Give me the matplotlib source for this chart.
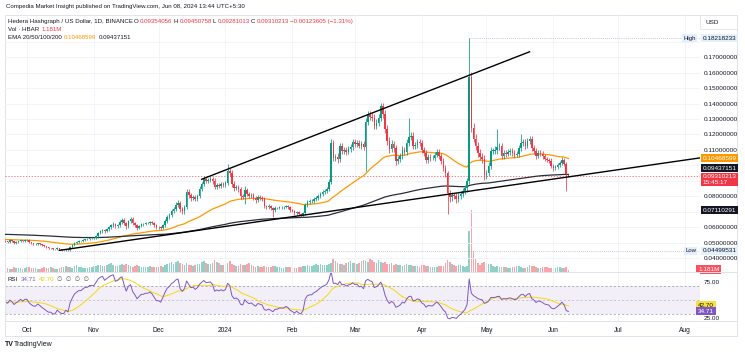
import numpy as np
import pandas as pd
import matplotlib
matplotlib.use("Agg")
import matplotlib.pyplot as plt
import matplotlib.dates as mdates
from matplotlib.patches import Rectangle
from matplotlib.transforms import blended_transform_factory as blend

plt.rcParams['font.family'] = ['Liberation Sans', 'DejaVu Sans']

# ---------------- data (daily HBAR/USD) ----------------
start_date = "2023-09-21"
first_open = 0.0512
last_open = 0.09354056
closes = [
    0.0510, 0.0504, 0.0517, 0.0510, 0.0497, 0.0504, 0.0510, 0.0517, 0.0510, 0.0517,
    0.0517, 0.0504, 0.0497, 0.0491, 0.0491, 0.0497, 0.0491, 0.0484, 0.0478, 0.0471,
    0.0465, 0.0465, 0.0458, 0.0458, 0.0465, 0.0458, 0.0452, 0.0452, 0.0458, 0.0452,
    0.0471, 0.0484, 0.0497, 0.0504, 0.0510, 0.0510, 0.0517, 0.0523, 0.0523, 0.0530, 0.0530,
    0.0530, 0.0543, 0.0562, 0.0575, 0.0582, 0.0575, 0.0588, 0.0601, 0.0614, 0.0621,
    0.0608, 0.0614, 0.0634, 0.0647, 0.0627, 0.0608, 0.0640, 0.0653, 0.0627, 0.0614,
    0.0595, 0.0608, 0.0621, 0.0621, 0.0627, 0.0627, 0.0634, 0.0627, 0.0614, 0.0601,
    0.0601, 0.0595, 0.0614, 0.0640, 0.0666, 0.0679, 0.0705, 0.0718, 0.0744, 0.0757,
    0.0718, 0.0705, 0.0731, 0.0829, 0.0809, 0.0790, 0.0796, 0.0783, 0.0803, 0.0848,
    0.0881, 0.0913, 0.0900, 0.0906, 0.0913, 0.0900, 0.0861, 0.0874, 0.0868, 0.0881,
    0.0874, 0.0887, 0.0965, 0.0952, 0.0881, 0.0855, 0.0861, 0.0848, 0.0803, 0.0796,
    0.0842, 0.0816, 0.0803, 0.0809, 0.0790, 0.0777, 0.0796, 0.0790, 0.0783, 0.0738,
    0.0731, 0.0738, 0.0725, 0.0712, 0.0725, 0.0725, 0.0731, 0.0731, 0.0731, 0.0738,
    0.0731, 0.0712, 0.0705, 0.0692, 0.0699, 0.0686, 0.0679, 0.0692, 0.0744, 0.0764,
    0.0770, 0.0770, 0.0783, 0.0790, 0.0803, 0.0816, 0.0829, 0.0835, 0.0848, 0.0894,
    0.1147, 0.1049, 0.1056, 0.1043, 0.1127, 0.1095, 0.1101, 0.1088, 0.1108, 0.1121,
    0.1153, 0.1140, 0.1147, 0.1127, 0.1140, 0.1121, 0.1283, 0.1329, 0.1316, 0.1309,
    0.1257, 0.1277, 0.1309, 0.1381, 0.1335, 0.1238, 0.1160, 0.1108, 0.1140, 0.1114,
    0.1030, 0.1043, 0.1062, 0.1101, 0.1088, 0.1147, 0.1186, 0.1192, 0.1127, 0.1134,
    0.1153, 0.1147, 0.1101, 0.1082, 0.1036, 0.1056, 0.1049, 0.1049, 0.1069, 0.1088,
    0.1062, 0.1030, 0.0984, 0.0952, 0.0822, 0.0796, 0.0809, 0.0803, 0.0783, 0.0803,
    0.0816, 0.0835, 0.0855, 0.0900, 0.1569, 0.1244, 0.1173, 0.1127, 0.1082, 0.1056,
    0.1043, 0.0939, 0.0952, 0.0997, 0.1095, 0.1095, 0.1101, 0.1121, 0.1127, 0.1062,
    0.1082, 0.1075, 0.1088, 0.1095, 0.1082, 0.1069, 0.1075, 0.1114, 0.1147, 0.1153,
    0.1127, 0.1160, 0.1173, 0.1114, 0.1095, 0.1062, 0.1082, 0.1075, 0.1062, 0.1043,
    0.1036, 0.1030, 0.0997, 0.0984, 0.0991, 0.1004, 0.1017, 0.1036, 0.1010, 0.0943, 0.09310213,
]
# wick lengths above / below the candle body, in thousandths of a dollar
upper_wick_milli = [
    0.6, 0.5, 0.8, 0.4, 0.5, 0.6, 0.4, 0.7, 0.5, 0.6,
    0.8, 0.6, 0.5, 0.4, 0.6, 0.5, 0.4, 0.5, 0.4, 0.5,
    0.5, 0.4, 0.5, 0.4, 0.6, 0.4, 0.5, 0.4, 0.5, 0.4,
    0.6, 0.7, 0.8, 0.6, 0.7, 0.5, 0.6, 0.5, 0.6, 0.5, 0.6,
    0.8, 0.9, 1.0, 0.8, 1.1, 0.9, 0.8, 1.0, 0.9, 1.2,
    1.0, 0.9, 1.2, 1.5, 1.3, 1.1, 1.0, 1.4, 1.2, 0.9,
    0.8, 0.9, 1.0, 0.8, 0.7, 0.9, 0.8, 0.7, 0.8, 0.6,
    0.7, 0.8, 1.0, 1.2, 1.4, 1.3, 1.6, 1.5, 1.8, 2.2,
    1.6, 1.4, 1.5, 2.0, 1.8, 1.5, 1.3, 1.4, 1.6, 1.9,
    1.5, 1.7, 1.6, 1.4, 1.8, 1.5, 1.6, 1.3, 1.5, 1.4,
    1.3, 1.5, 4.5, 2.0, 1.8, 1.6, 1.5, 1.4, 1.3, 1.6,
    2.6, 1.5, 1.2, 1.4, 1.3, 1.1, 1.4, 1.2, 1.0, 1.1,
    1.0, 1.2, 0.9, 1.0, 1.1, 0.8, 0.9, 1.0, 0.8, 0.9,
    0.8, 0.9, 0.7, 0.8, 0.9, 0.7, 0.8, 1.0, 1.2, 1.4,
    1.2, 1.3, 1.1, 1.4, 1.2, 1.3, 1.5, 1.4, 1.6, 2.0,
    2.6, 2.0, 1.8, 2.2, 2.0, 1.8, 1.7, 1.9, 1.6, 1.8,
    1.8, 1.6, 1.9, 1.7, 1.8, 2.0, 2.4, 2.5, 2.0, 2.2,
    2.2, 2.0, 2.3, 2.5, 2.4, 2.6, 2.4, 2.2, 2.5, 2.1,
    2.0, 1.9, 2.1, 2.2, 2.0, 2.4, 12.0, 2.3, 2.1, 2.0,
    1.9, 2.0, 1.8, 1.9, 1.7, 1.8, 1.6, 1.7, 1.8, 1.6,
    1.7, 1.6, 1.8, 1.9, 1.5, 2.0, 1.8, 1.6, 1.7, 1.9,
    1.8, 1.9, 2.0, 2.2, 25.3, 3.5, 2.8, 3.0, 2.6, 2.4,
    2.2, 2.4, 2.0, 2.3, 2.5, 2.1, 2.2, 11.7, 2.0, 2.1,
    1.8, 1.7, 1.9, 1.6, 1.8, 1.7, 1.6, 2.0, 5.8, 1.9,
    1.7, 1.8, 2.0, 1.9, 1.7, 1.6, 1.5, 1.7, 1.6, 1.5,
    1.4, 1.5, 1.6, 1.4, 1.3, 1.5, 1.4, 1.6, 1.5, 1.3, 0.1,
]
lower_wick_milli = [
    0.5, 0.6, 0.4, 0.7, 0.5, 0.4, 0.6, 0.5, 0.4, 0.6,
    0.5, 0.6, 0.5, 0.6, 0.4, 0.5, 0.6, 0.5, 0.6, 0.5,
    0.5, 0.4, 0.5, 0.4, 0.5, 0.4, 0.2, 0.1, 0.4, 0.1,
    0.1, 0.5, 0.6, 0.5, 0.6, 0.5, 0.6, 0.5, 0.4, 0.6, 0.5,
    0.6, 0.7, 0.8, 0.6, 0.9, 1.0, 0.7, 0.8, 0.9, 0.8,
    0.9, 1.0, 0.8, 1.2, 1.0, 1.6, 1.1, 0.9, 1.3, 1.0,
    1.0, 0.8, 0.7, 0.9, 0.8, 0.7, 0.8, 0.7, 0.9, 0.8,
    0.8, 0.9, 0.8, 1.0, 1.2, 1.1, 1.3, 1.4, 1.2, 1.5,
    2.0, 1.8, 1.5, 1.4, 1.6, 1.7, 1.4, 1.5, 1.3, 1.2,
    1.4, 1.3, 1.5, 1.6, 1.4, 1.8, 1.5, 1.4, 1.6, 1.3,
    1.4, 1.3, 1.2, 1.8, 2.0, 1.7, 1.5, 1.6, 1.8, 1.5,
    4.5, 1.5, 1.3, 1.2, 1.4, 1.6, 1.2, 1.1, 1.3, 1.5,
    1.2, 1.0, 1.1, 4.4, 1.0, 0.9, 0.8, 1.0, 0.9, 0.8,
    0.9, 1.0, 0.8, 0.9, 1.1, 0.8, 1.0, 0.9, 1.1, 1.2,
    1.1, 1.0, 1.2, 1.1, 1.3, 1.2, 1.1, 1.4, 1.2, 1.3,
    1.5, 2.2, 2.0, 2.4, 2.1, 1.8, 1.9, 2.0, 1.7, 1.9,
    1.9, 2.0, 1.8, 1.7, 2.1, 2.0, 15.6, 2.2, 2.4, 2.0,
    2.4, 2.1, 2.3, 2.2, 2.6, 2.8, 2.5, 2.9, 2.4, 2.6,
    2.4, 2.2, 2.0, 2.3, 2.1, 2.2, 2.0, 2.4, 2.2, 2.1,
    2.0, 1.9, 2.1, 1.8, 2.0, 1.7, 1.8, 1.6, 1.9, 1.7,
    1.8, 2.0, 2.2, 2.6, 13.6, 3.0, 2.4, 2.2, 2.5, 2.1,
    2.0, 2.2, 2.1, 2.4, 2.0, 2.6, 2.4, 2.8, 2.5, 2.3,
    2.4, 3.0, 2.6, 2.2, 2.0, 2.3, 2.1, 2.4, 2.2, 2.3,
    1.9, 1.8, 1.7, 2.0, 1.8, 1.9, 1.7, 1.8, 2.0, 1.9,
    1.8, 1.7, 1.9, 2.0, 1.8, 1.7, 1.6, 1.5, 1.7, 1.6,
    1.5, 1.6, 1.4, 1.7, 1.5, 1.3, 1.6, 1.4, 1.5, 10.8, 0.3,
]
volume_m = [
    2.1, 1.8, 1.5, 1.7, 2.4, 2.0, 2.2, 1.9, 1.6, 2.3,
    2.5, 2.8, 2.2, 1.9, 2.0, 1.6, 1.4, 2.1, 2.6, 2.3, 2.0, 2.4, 1.8, 1.5, 1.7, 2.2,
    2.9, 2.5, 3.1, 2.7, 2.4, 2.0, 3.3, 3.6, 2.8, 2.5, 2.3, 1.9, 2.1, 2.6, 2.9,
    3.2, 3.5, 4.1, 3.8, 3.0, 3.4, 3.9, 4.3, 4.8, 4.0, 3.5, 3.2, 3.8, 4.2, 3.6,
    4.5, 3.9, 3.1, 2.8, 3.3, 3.7, 3.0, 2.7, 2.9, 2.5, 2.4, 3.1, 2.8, 2.6, 2.7,
    2.9, 3.1, 2.8, 3.6, 4.2, 5.0, 5.4, 4.6, 5.8, 6.3, 5.1, 4.4, 3.9, 4.8, 4.1, 3.7,
    3.5, 3.9, 4.2, 4.6, 5.5, 6.1, 5.2, 4.7, 4.3, 5.0, 6.8, 5.9, 4.8, 4.0, 3.6,
    3.8, 5.2, 6.0, 4.6, 4.1, 3.5, 3.2, 4.4, 4.0, 3.6, 4.2, 4.8, 3.7, 3.1, 2.9, 3.0,
    2.8, 2.6, 3.2, 2.7, 2.4, 2.9, 3.4, 3.0, 2.6, 2.8, 2.3, 2.2, 2.5, 2.4, 2.7,
    2.6, 2.3, 2.1, 2.4, 2.9, 3.1, 3.4, 3.7, 3.3, 3.0, 3.6, 4.2, 3.8, 4.4, 4.0,
    3.6, 3.9, 4.5, 5.1, 8.2, 6.4, 5.3, 4.6, 4.2, 4.0, 4.8, 5.6, 6.1, 5.2,
    4.8, 4.5, 5.3, 6.2, 7.0, 6.1, 5.5, 7.8, 6.9, 5.8, 5.2, 6.6, 5.9, 5.1, 5.4, 4.6,
    4.2, 4.9, 4.1, 4.4, 3.9, 3.6, 3.5, 3.8, 4.3, 3.7, 4.0, 3.4, 3.1, 3.0, 2.8,
    3.6, 4.1, 3.3, 3.0, 2.9, 2.6, 2.5, 2.8, 3.2, 3.0, 3.4, 5.2, 7.1, 5.6, 4.3,
    3.9, 3.5, 3.8, 4.0, 3.2, 2.9, 3.1, 24.0, 36.5, 12.3, 7.4, 5.2, 4.1, 4.8, 5.6,
    5.0, 4.2, 4.6, 3.5, 2.8, 3.3, 2.9, 2.6, 2.4, 2.7, 2.2, 2.0, 2.5, 2.9, 3.4, 3.1,
    2.6, 2.3, 2.1, 2.6, 3.8, 3.4, 3.1, 2.8, 2.3, 2.1, 2.4, 2.7, 2.5, 2.2, 2.0,
    1.9, 2.1, 2.4, 2.6, 2.2, 2.0, 2.5, 1.181,
]
ema50_seed = 0.0523
ema200_seed = 0.0556
rsi_seed_gain = 0.00060
rsi_seed_loss = 0.00065

# trend lines drawn on the chart (date, price anchors)
upper_tl_dates = ["2023-12-21", "2024-05-21"]
upper_tl_prices = [0.0911, 0.1734]
lower_tl_dates = ["2023-10-16", "2024-08-08"]
lower_tl_prices = [0.0452, 0.1049]

price_ticks = [0.04, 0.05, 0.06, 0.07, 0.08, 0.09, 0.10, 0.11, 0.12, 0.13, 0.14, 0.15, 0.16, 0.17, 0.18]
# tick labels hidden behind the coloured price boxes on the right axis
hidden_tick_labels = [0.07, 0.09, 0.10, 0.18]
month_starts = ["2023-10-01", "2023-11-01", "2023-12-01", "2024-01-01", "2024-02-01", "2024-03-01",
                "2024-04-01", "2024-05-01", "2024-06-01", "2024-07-01", "2024-08-01"]
month_labels = ["Oct", "Nov", "Dec", "2024", "Feb", "Mar", "Apr", "May", "Jun", "Jul", "Aug"]

ema50_label = 0.10468599
ema200_label = 0.09437151
last_close_label = 0.09310213
extra_label = 0.07110291
high_label = 0.18218233
low_label = 0.04499531
rsi_label = 34.71
rsi_ma_label = 42.70

n = len(closes)
assert len(upper_wick_milli) == n and len(lower_wick_milli) == n and len(volume_m) == n, \
    (n, len(upper_wick_milli), len(lower_wick_milli), len(volume_m))

# ---------------- derived series ----------------
dates = pd.date_range(start_date, periods=n, freq="D")
xd = mdates.date2num(dates)
c = np.array(closes)
o = np.r_[first_open, c[:-1]]
o[-1] = last_open
hi = np.maximum(o, c) + np.array(upper_wick_milli) / 1000.0
lo = np.minimum(o, c) - np.array(lower_wick_milli) / 1000.0
up = c >= o

def ema(vals, span, seed):
    a = 2.0 / (span + 1)
    e = seed
    out = []
    for v in vals:
        e = e + a * (v - e)
        out.append(e)
    return np.array(out)

ema50 = ema(c, 50, ema50_seed)
ema200 = ema(c, 200, ema200_seed)

def rsi(vals, prev, g0, l0, p=14):
    ag, al = g0, l0
    out = []
    for v in vals:
        ch = v - prev
        prev = v
        ag = (ag * (p - 1) + max(ch, 0)) / p
        al = (al * (p - 1) + max(-ch, 0)) / p
        out.append(100 - 100 / (1 + ag / al))
    return np.array(out)

rsi_v = rsi(c, first_open, rsi_seed_gain, rsi_seed_loss)
rsi_ma = pd.Series(rsi_v).rolling(14, min_periods=1).mean().values

# ---------------- figure ----------------
W, H = 745, 355
fig = plt.figure(figsize=(W / 100, H / 100), dpi=100)
fig.patch.set_facecolor("white")

def add_ax(x0, y0, x1, y1):
    return fig.add_axes([x0 / W, 1 - y1 / H, (x1 - x0) / W, (y1 - y0) / H])

ax = add_ax(5, 15, 700, 271.5)
axv = ax.twinx()
axr = add_ax(5, 272.5, 700, 321)

UP = "#089981"
DN = "#F23645"
TXT = "#131722"
GRID = "#f0f3fa"

oct1 = mdates.date2num(pd.Timestamp("2023-10-01"))
xlim = (oct1 - 10.2, oct1 + 312.0)
mticks = mdates.date2num(pd.to_datetime(month_starts))

# volume
vcol = [(8/255, 153/255, 129/255, 0.45) if u else (242/255, 54/255, 69/255, 0.45) for u in up]
axv.bar(xd, volume_m, width=0.75, color=vcol, linewidth=0)
axv.set_ylim(0, max(volume_m) * 4.2)
axv.set_axis_off()
ax.set_zorder(axv.get_zorder() + 1)
ax.patch.set_visible(False)

# candles
col = np.where(up, UP, DN)
ax.vlines(xd, lo, hi, colors=col, linewidth=0.55, zorder=4)
body_h = np.maximum(np.abs(c - o), 0.00025)
ax.bar(xd, body_h, bottom=np.minimum(o, c), width=0.72, color=col, linewidth=0, zorder=5)

# EMAs
ax.plot(xd, ema50, color="#FF9800", lw=0.9, zorder=3)
ax.plot(xd, ema200, color="#2a2e39", lw=0.9, zorder=3)

# trend lines
ax.plot(mdates.date2num(pd.to_datetime(upper_tl_dates)), upper_tl_prices, color="black", lw=1.0, zorder=6)
ax.plot(mdates.date2num(pd.to_datetime(lower_tl_dates)), lower_tl_prices, color="black", lw=1.0, zorder=6)

# current price line, high / low markers
ax.axhline(last_close_label, color=DN, lw=0.6, ls=(0, (1.5, 2)), alpha=0.8, zorder=2)
ih = int(np.argmax(hi))
il = int(np.argmin(lo))
ax.plot([xd[ih], xlim[1]], [high_label, high_label], color="#9598A1", lw=0.5, ls=(0, (1, 2)), zorder=2)
ax.plot([xd[il], xlim[1]], [low_label, low_label], color="#9598A1", lw=0.5, ls=(0, (1, 2)), zorder=2)

ax.set_xlim(*xlim)
ax.set_ylim(0.03156, 0.19714)
ax.set_xticks(mticks)
ax.set_yticks(price_ticks)
ax.set_yticklabels(["" if any(abs(t - h) < 1e-9 for h in hidden_tick_labels) else f"{t:.8f}"
                    for t in price_ticks])
ax.yaxis.tick_right()
ax.tick_params(axis="y", length=0, pad=2.5, labelsize=4.6, labelcolor=TXT)
ax.tick_params(axis="x", length=0, labelbottom=False)
ax.grid(True, color=GRID, lw=0.6)
ax.set_axisbelow(True)
for s in ax.spines.values():
    s.set_visible(False)

# RSI pane
axr.axhspan(30, 70, color="#7E57C2", alpha=0.09, lw=0)
for lvl, a in ((70, 0.8), (50, 0.5), (30, 0.8)):
    axr.axhline(lvl, color="#787B86", lw=0.5, ls=(0, (3, 3)), alpha=a)
axr.plot(xd, rsi_ma, color="#F5D90A", lw=0.7)
axr.plot(xd, rsi_v, color="#7E57C2", lw=0.7)
axr.set_xlim(*xlim)
axr.set_ylim(20.7, 88.75)
axr.set_xticks(mticks)
axr.set_xticklabels(month_labels)
axr.set_yticks([25, 75])
axr.set_yticklabels(["25.00", "75.00"])
axr.yaxis.tick_right()
axr.tick_params(axis="y", length=0, pad=2.5, labelsize=4.6, labelcolor=TXT)
axr.tick_params(axis="x", length=0, pad=4.5, labelsize=4.8, labelcolor=TXT)
axr.grid(True, axis="x", color=GRID, lw=0.6)
for s in axr.spines.values():
    s.set_visible(False)

# borders
fig.add_artist(Rectangle((5 / W, 1 - 336 / H), 732 / W, 321 / H, transform=fig.transFigure,
                         fill=False, ec="#e0e3eb", lw=0.7))
fig.add_artist(plt.Line2D([5 / W, 737 / W], [1 - 272 / H] * 2, transform=fig.transFigure,
                          color="#e0e3eb", lw=0.7))
fig.add_artist(plt.Line2D([5 / W, 737 / W], [1 - 321 / H] * 2, transform=fig.transFigure,
                          color="#e0e3eb", lw=0.7))

# right-axis boxes
def box(axis, yv, txt, fc, tc, x=1.004, ha="left", fs=4.6, pad=0.25, va="center", dy=0):
    axis.annotate(txt, xy=(x, yv), xycoords=blend(axis.transAxes, axis.transData),
                  xytext=(0, dy), textcoords="offset points",
                  fontsize=fs, color=tc, ha=ha, va=va, annotation_clip=False,
                  bbox=dict(boxstyle=f"square,pad={pad}", fc=fc, ec="none"), zorder=20)

box(ax, ema50_label, f"{ema50_label:.8f}", "#FF9800", "white")
# TradingView pushes this label up so that it clears the last-price label
box(ax, ema200_label, f"{ema200_label:.8f}", "#131722", "white", pad=0.22, dy=4.3)
box(ax, last_close_label, f"{last_close_label:.8f}\n15:45:17", DN, "white", va="top", dy=1.6, pad=0.22)
box(ax, extra_label, f"{extra_label:.8f}", "#131722", "white")
box(ax, high_label, f"{high_label:.8f}", "#e3effd", TXT)
box(ax, low_label, f"{low_label:.8f}", "#e3effd", TXT)
box(ax, high_label, "High", "#e3effd", TXT, x=(683 - 5) / 695, fs=4.3)
box(ax, low_label, "Low", "#e3effd", TXT, x=(685 - 5) / 695, fs=4.3)
box(axv, volume_m[-1], "1.181M", "#F7525F", "white", x=(698 - 5) / 695)
box(axr, rsi_ma_label, f"{rsi_ma_label:.2f}", "#F5E13A", TXT, x=(698 - 5) / 695)
box(axr, rsi_label, f"{rsi_label:.2f}", "#7E57C2", "white", x=(698 - 5) / 695)

# USD box
fig.text(705 / W, 1 - 22 / H, "USD", fontsize=4.6, color=TXT, va="center", ha="left")
fig.add_artist(Rectangle((700 / W, 1 - 28.5 / H), 37 / W, 13.5 / H, transform=fig.transFigure,
                         fill=False, ec="#e0e3eb", lw=0.6))

# legend texts
renderer = fig.canvas.get_renderer()

def seq(x, y, parts, fs, gap=2.5):
    for s, colr in parts:
        t = fig.text(x / W, 1 - y / H, s, fontsize=fs, color=colr, va="center", ha="left", zorder=30)
        bb = t.get_window_extent(renderer=renderer)
        x += bb.width + gap

seq(6, 6.5, [("Compedia Market Insight published on TradingView.com, Jun 08, 2024 13:44 UTC+5:30", TXT)], 4.4)
seq(8, 21.5, [("Hedera Hashgraph / US Dollar, 1D, BINANCE", TXT),
              ("O", TXT), ("0.09354056", DN), ("H", TXT), ("0.09450758", DN),
              ("L", TXT), ("0.09281013", DN), ("C", TXT), ("0.09310213", DN),
              ("\u22120.00123605 (\u22121.31%)", DN)], 4.4, gap=1.2)
seq(8, 29.5, [("Vol \u00b7 HBAR", TXT), ("1.181M", DN)], 4.4)
seq(8, 37.8, [("EMA 20/50/100/200", TXT), (f"{ema50_label:.8f}", "#FF9800"),
              (f"{ema200_label:.8f}", TXT)], 4.4)
seq(8, 279.5, [("RSI", TXT), (f"{rsi_label:.2f}", "#7E57C2"), (f"{rsi_ma_label:.2f}", "#E8C900"),
               ("\u2205  \u2205  \u2205  \u2205", "#555a66")], 4.4)

# TradingView logo
fig.text(5 / W, 1 - 344 / H, "TV", fontsize=5, color=TXT, fontweight="bold", va="center", ha="left")
fig.text(14 / W, 1 - 344 / H, "TradingView", fontsize=5, color=TXT, va="center", ha="left")

fig.savefig("out.png", dpi=100, facecolor="white")
